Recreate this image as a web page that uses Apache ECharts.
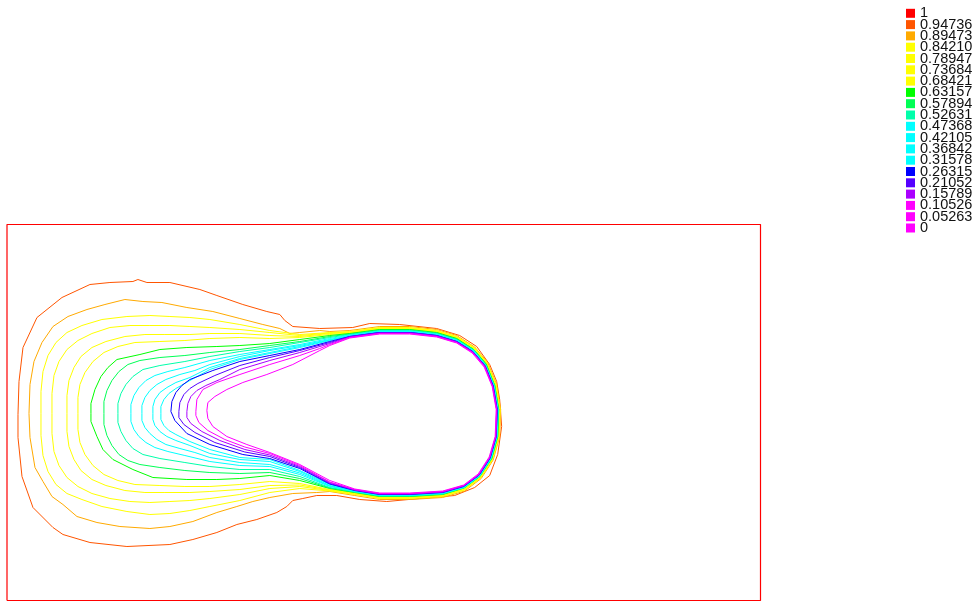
<!DOCTYPE html>
<html>
<head>
<meta charset="utf-8">
<title>Isovalues</title>
<script src="https://cdn.jsdelivr.net/npm/echarts@6/dist/echarts.min.js"></script>
<style>
  html, body { margin: 0; padding: 0; background: #ffffff; }
  #chart { width: 980px; height: 602px; }
</style>
</head>
<body>
<div id="chart"></div>
<script>
// Computational domain (mesh units) and its boundary
const domainX = [0, 754];
const domainY = [0, 376];
const domainBorder = [[0, 0], [754, 0], [754, 376], [0, 376], [0, 0]];

// Iso-value levels shown in the colour key, top to bottom
const levelLabels = ['1', '0.94736', '0.89473', '0.84210', '0.78947', '0.73684', '0.68421',
  '0.63157', '0.57894', '0.52631', '0.47368', '0.42105', '0.36842', '0.31578',
  '0.26315', '0.21052', '0.15789', '0.10526', '0.05263', '0'];
const levelColors = ['#ff0000', '#ff5500', '#ffaa00', '#ffff00', '#ffff00', '#ffff00', '#ffff00',
  '#00ff00', '#00ff55', '#00ffaa', '#00ffff', '#00ffff', '#00ffff', '#00ffff',
  '#0000ff', '#5500ff', '#aa00ff', '#ff00ff', '#ff00ff', '#ff00ff'];

// Closed iso-lines, one polyline per level (x, y in mesh units)
const iso_094736 = [[11,186],[12,219],[16,253],[30,283],[55,303],[83,316],[103,318],[126,319],[131,321],[140,318],[163,318],[193,311],[210,305],[236,296],[260,289],[273,286],[278,280],[286,274],[313,272],[346,273],[363,277],[393,276],[430,272],[453,265],[470,254],[483,236],[490,219],[493,201],[495,174],[491,146],[483,125],[468,113],[448,105],[413,102],[380,99],[353,101],[330,105],[310,105],[296,102],[286,100],[280,94],[270,88],[250,81],[230,76],[210,68],[186,61],[163,56],[120,54],[83,58],[56,66],[46,73],[26,93],[15,124],[11,163],[11,186]];
const iso_089473 = [[22,187],[23,216],[27,239],[35,258],[46,274],[61,284],[80,291],[98,296],[118,301],[136,299],[155,298],[180,293],[206,289],[233,282],[256,276],[273,272],[283,267],[293,268],[313,270],[323,269],[343,270],[373,274],[403,274],[430,271],[450,265],[468,253.5],[481,238],[490,216],[494,191],[493,164],[486.5,140.5],[474.5,122],[458,109.5],[436,103],[403,101],[373,101],[348,105],[323,109],[310,108],[286,107],[263,103],[246,99],[230,94],[210,88],[186,79],[163,74],[143,72],[113,74],[90,78],[70,84],[56,96],[45,104],[36,119],[28,133],[23,163],[22,187]];
const iso_084210 = [[34,187],[34,209],[36,229],[41,245],[49,258],[60,268],[75,275],[95,281],[120,284],[143,285],[163,284],[183,283],[203,281],[233,276],[263,270],[293,266],[323,268],[343,269],[373,273],[403,273],[430,270],[450,264],[468,253],[480.5,237.5],[489.5,216],[493.5,191],[492.5,164],[486,141],[474,122.5],[458,110.5],[436,104],[403,102],[373,102],[348,106],[323,109.5],[293,112],[263,108],[233,100],[203,94],[183,90],[163,87],[143,86],[120,89],[95,94],[75,101],[60,107],[49,116],[41,129],[36,145],[34,165],[34,187]];
const iso_078947 = [[45,187],[45,207],[47,225],[52,239],[60,251],[71,260],[85,267],[103,273],[123,275],[143,275],[163,275],[183,274],[203,273],[233,271],[263,268],[293,265],[323,267.5],[343,268.5],[373,272.5],[403,272.5],[430,269.5],[450,263.5],[467.5,252.5],[480,237.5],[489,215.5],[493,191],[492,164],[485.5,141],[474,123],[458,111],[436,104.5],[403,102.5],[373,102.5],[348,106.5],[323,110],[293,114],[263,112],[233,106],[203,102],[183,100],[163,99],[143,98],[123,99],[103,102],[85,107],[71,114],[60,123],[52,135],[47,149],[45,167],[45,187]];
const iso_073684 = [[60,187],[60,205],[62,220],[67,233],[74,244],[85,253],[99,259],[118,264],[138,266],[158,266],[183,266],[203,267],[233,267],[263,265],[293,264],[323,267],[343,268],[373,272],[403,272],[430,269],[450,263],[467.5,252],[480,237],[489,215.5],[493,191],[492,164],[485.5,141.5],[474,123],[458,111.5],[436,105],[403,103],[373,103],[348,107],[323,110.5],[293,115.5],[263,115],[233,111],[203,109],[183,108],[158,108],[138,108],[118,110],[99,115],[85,121],[74,130],[67,141],[62,154],[60,169],[60,187]];
const iso_068421 = [[71,187],[71,203],[73,216],[78,228],[86,239],[97,248],[111,254],[128,258],[153,259],[178,260],[203,262],[233,263],[263,262],[293,263],[323,266],[343,267.5],[373,271.5],[403,271.5],[430,268.5],[450,262.5],[467,251.5],[480,236.5],[488.5,215.5],[492.5,191],[491.5,164],[485,141.5],[473.5,123.5],[458,112],[436,105.5],[403,103.5],[373,103.5],[348,107.5],[323,111],[293,117],[263,119],[233,116],[203,114],[178,114],[153,115],[128,116],[111,120],[97,126],[86,135],[78,146],[73,158],[71,171],[71,187]];
const iso_063157 = [[84,187],[84,197],[88,211],[94,224],[101,233],[110,241],[133,246],[153,251],[180,253],[210,254],[233,255],[263,257],[293,261],[323,265],[343,267],[373,271],[403,271],[430,268],[450,262],[467,251],[479.5,236.5],[488,215],[492,191],[491,164],[485,142],[473,124],[457.5,112.5],[436,106],[403,104],[373,104],[348,108],[323,112],[293,120],[263,125],[233,122],[210,121],[180,121],[146,123],[126,131],[106,141],[96,151],[90,164],[84,179],[84,187]];
const iso_057894 = [[97,187],[97,199],[100,210],[105,220],[112,229],[121,236],[133,240],[153,243],[178,245],[203,248],[233,251],[263,255],[293,259],[323,264],[343,266.5],[373,270.5],[403,270.5],[430,267.5],[450,261.5],[467,251],[479.5,236],[488,215],[492,191],[491,164],[485,142],[473,124],[457.5,113],[436,106.5],[403,104.5],[373,104.5],[348,108.5],[323,112.5],[293,122],[263,128],[233,127],[203,128],[178,130],[153,133],[133,136],[121,140],[112,146],[105,155],[100,165],[97,176],[97,187]];
const iso_052631 = [[111,187],[111,197],[114,207],[119,216],[126,224],[136,231],[153,235],[178,239],[203,244],[233,249],[263,253],[293,258],[323,263],[343,266],[373,270],[403,270],[430,267],[450,261],[467,250.5],[479,236],[487.5,215],[491.5,191],[490.5,164],[484.5,142],[473,124],[457.5,113],[436,106.5],[403,104.5],[373,104.5],[348,108.5],[323,113],[293,124],[263,131],[233,131],[203,134],[178,138],[153,142],[136,146],[126,152],[119,160],[114,169],[111,178],[111,187]];
const iso_047368 = [[124,187],[124,196],[127,205],[132,213],[139,220],[148,225],[161,229],[178,233],[203,240],[233,246],[263,251],[293,256],[323,262],[343,265.5],[373,269.5],[403,269.5],[430,266.5],[450,260.5],[467,250],[479,235.5],[487.5,215],[491.5,191],[490.5,164],[484.5,142],[473,124.5],[457.5,113],[436,107],[403,105],[373,105],[348,109],[323,114],[293,126],[263,134],[233,135],[203,139],[178,145],[161,149],[148,153],[139,158],[132,164],[127,171],[124,179],[124,187]];
const iso_042105 = [[135,187],[135,195],[138,203],[143,210],[150,216],[159,221],[173,226],[188,230],[203,236],[233,244],[263,250],[293,255],[323,261],[343,265],[373,269],[403,269],[430,266],[450,260],[466.5,249.5],[478.5,235],[487,214.5],[491,191],[490,164],[484,142.5],[472.5,125],[457.5,113.5],[436,107.5],[403,105.5],[373,105.5],[348,109.5],[323,114.5],[293,127.5],[263,136],[233,138],[203,143],[188,148],[173,152],[159,156],[150,161],[143,167],[138,173],[135,180],[135,187]];
const iso_036842 = [[146,187],[146,194],[148,201],[153,208],[160,213],[169,218],[183,223],[203,233],[233,242],[263,248],[293,254],[323,260.5],[343,264.5],[373,268.5],[403,268.5],[430,265.5],[450,259.5],[466.5,249],[478.5,235],[487,214.5],[491,191],[490,164],[484,142.5],[472.5,125],[457.5,113.5],[436,107.5],[403,105.5],[373,105.5],[348,109.5],[323,115],[293,129],[263,139],[233,141],[203,147],[183,155],[169,160],[160,164],[153,169],[148,175],[146,181],[146,187]];
const iso_031578 = [[154,187],[154,194],[157,201],[162,207],[169,212],[183,220],[203,231],[233,241],[263,247],[293,253],[323,260],[343,264.5],[373,268.5],[403,268.5],[430,265.5],[450,259.5],[466.5,249],[478.5,235],[487,214.5],[491,191],[490,164],[484,142.5],[472.5,125.5],[457.5,114],[436,108],[403,106],[373,106],[348,110],[323,116],[293,130],[263,141],[233,143],[203,151],[183,159],[169,166],[162,170],[157,175],[154,181],[154,187]];
const iso_026315 = [[164,189],[165,199],[169,208],[175,215],[183,221],[206,230],[233,239],[263,245],[293,251],[323,259],[343,264],[373,268],[403,268],[430,265],[450,259],[466,249],[478.5,234.5],[486.5,214.5],[490.5,191],[489.5,164],[483.5,142.5],[472.5,125.5],[457,114],[436,108],[403,106],[373,106],[348,110],[323,116.5],[293,132],[263,142],[236,146],[203,156],[180,167],[168,180],[164,189]];
const iso_021052 = [[172,189],[173,198],[177,206],[183,212],[191,217],[208,225],[233,235],[263,243],[293,250],[323,258],[343,264],[373,268],[403,268],[430,265],[450,259],[466,249],[478.5,234.5],[486.5,214.5],[490.5,191],[489.5,164],[483.5,143],[472.5,125.5],[457,114.5],[436,108.5],[403,106.5],[373,106.5],[348,110.5],[323,117],[293,133],[263,144],[238,148.5],[208,158],[188,168],[177,176],[172,183],[172,189]];
const iso_015789 = [[180,189],[181,197],[184,204],[190,210],[199,215],[213,221],[233,231],[263,240],[293,248],[323,257],[343,263.5],[373,267.5],[403,267.5],[430,264.5],[450,258.5],[466,248.5],[478,234.5],[486,214],[490,191],[489,164],[483,143],[472,125.5],[457,114.5],[436,108.5],[403,106.5],[373,106.5],[348,110.5],[323,118],[293,134],[263,145.5],[238,151],[213,160],[195,169],[184,177],[180,183],[180,189]];
const iso_010526 = [[189,189],[190,201],[196,211],[210,218],[233,226],[263,236],[293,245],[313,252],[323,256],[343,263],[373,267],[403,267],[430,264],[450,258],[466,248],[478,234],[486,214],[490,191],[489,164],[483,143],[472,126],[457,115],[436,109],[403,107],[373,107],[348,111],[323,118.5],[293,135],[263,147],[238,153.5],[218,161],[201,170],[192,178],[189,185],[189,189]];
const iso_005263 = [[200,190],[201,198],[208,204],[220,211],[236,218],[260,226],[286,236],[313,250],[323,255],[343,262.5],[373,266.5],[403,266.5],[430,263.5],[450,257.5],[465.5,247.5],[477.5,233.5],[485.5,214],[489.5,191],[488.5,164],[482.5,143.5],[471.5,126.5],[457,115.5],[436,109.5],[403,107.5],[373,107.5],[348,111.5],[323,120],[293,136],[263,148],[240,156],[220,164],[206,174],[201,182],[200,190]];

// Lines per level, in the same order as levelLabels (no line for 1 and 0)
const isoLines = [null, iso_094736, iso_089473, iso_084210, iso_078947, iso_073684, iso_068421,
  iso_063157, iso_057894, iso_052631, iso_047368, iso_042105, iso_036842, iso_031578,
  iso_026315, iso_021052, iso_015789, iso_010526, iso_005263, null];

const chart = echarts.init(document.getElementById('chart'), null, { renderer: 'canvas' });

const series = levelLabels.map(function (label, i) {
  return {
    name: label,
    type: 'line',
    data: isoLines[i] || [],
    showSymbol: false,
    symbol: 'none',
    silent: true,
    animation: false,
    color: levelColors[i],
    lineStyle: { width: 1, color: levelColors[i] },
    z: 2 + i
  };
});

// Outer boundary of the domain
series.push({
  name: 'border',
  type: 'line',
  data: domainBorder,
  showSymbol: false,
  symbol: 'none',
  silent: true,
  animation: false,
  lineStyle: { width: 1.2, color: '#ff0000' },
  z: 1
});

chart.setOption({
  backgroundColor: '#ffffff',
  animation: false,
  grid: { left: 7, top: 224.5, width: 753.5, height: 376, show: false },
  xAxis: {
    type: 'value', min: domainX[0], max: domainX[1],
    show: false, splitLine: { show: false }
  },
  yAxis: {
    type: 'value', min: domainY[0], max: domainY[1],
    show: false, splitLine: { show: false }
  },
  legend: {
    data: levelLabels,
    orient: 'vertical',
    left: 906,
    top: 5.8,
    padding: 0,
    icon: 'rect',
    itemWidth: 9,
    itemHeight: 9,
    itemGap: -3.7,
    selectedMode: false,
    textStyle: {
      fontFamily: '"Liberation Sans", Arial, sans-serif',
      fontSize: 14.5,
      color: '#111111'
    }
  },
  series: series
});
</script>
</body>
</html>
